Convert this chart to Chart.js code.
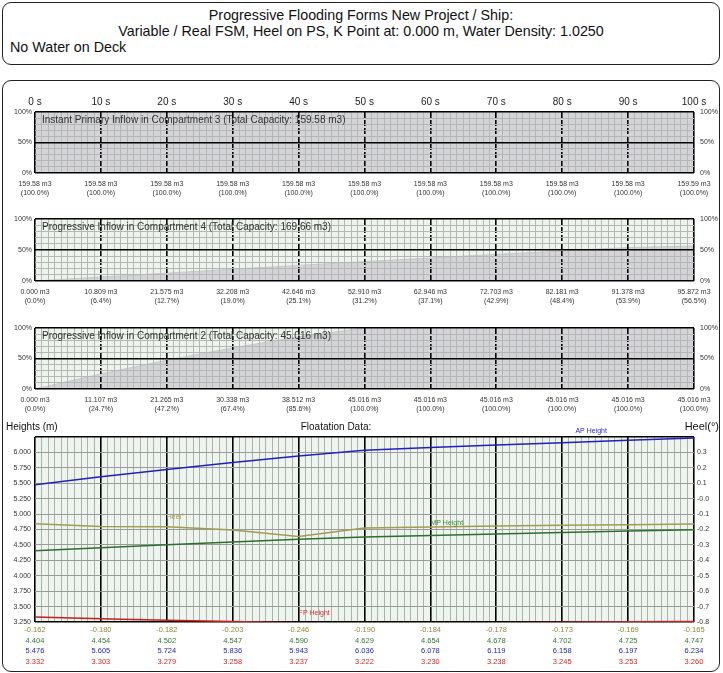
<!DOCTYPE html>
<html>
<head>
<meta charset="utf-8">
<script src="https://cdn.jsdelivr.net/npm/chart.js@4.4.1/dist/chart.umd.min.js"></script>
<style>
body { margin: 0; background: #fff; font-family: "Liberation Sans", Arial, sans-serif; }
#page { position: relative; width: 723px; height: 673px; overflow: hidden; }
.box { position: absolute; border: 1px solid #222; border-radius: 9px; box-sizing: border-box; }
#header { left: 2px; top: 2px; width: 718px; height: 63px; }
#header div { position: absolute; font-size: 14.3px; color: #111; white-space: nowrap; }
#main { left: 2px; top: 80px; width: 718px; height: 592px; }
canvas { position: absolute; left: 0; }
</style>
</head>
<body>
<div id="page">
  <div class="box" id="header">
    <div style="left:0;width:100%;text-align:center;top:4px">Progressive Flooding Forms New Project / Ship:</div>
    <div style="left:0;width:100%;text-align:center;top:20px">Variable / Real FSM, Heel on PS, K Point at: 0.000 m, Water Density: 1.0250</div>
    <div style="left:7px;top:36px">No Water on Deck</div>
  </div>
  <div class="box" id="main"></div>
  <canvas id="panel1" width="723" height="105" style="top:95px"></canvas>
  <canvas id="panel2" width="723" height="105" style="top:203px"></canvas>
  <canvas id="panel3" width="723" height="105" style="top:312px"></canvas>
  <canvas id="floatation" width="723" height="256" style="top:417px"></canvas>
</div>
<script>
'use strict';

//time steps and tick labels
var times = [0, 10, 20, 30, 40, 50, 60, 70, 80, 90, 100];
var timeTicks = ['0 s', '10 s', '20 s', '30 s', '40 s', '50 s', '60 s', '70 s', '80 s', '90 s', '100 s'];
var pctTicks = ['0%', '', '', '', '', '50%', '', '', '', '', '100%'];
var heightTicks = ['3.250', '3.500', '3.750', '4.000', '4.250', '4.500', '4.750', '5.000', '5.250', '5.500', '5.750', '6.000'];
var heelTicks = ['-0.8', '-0.7', '-0.6', '-0.5', '-0.4', '-0.3', '-0.2', '-0.1', '-0.0', '0.1', '0.2', '0.3'];

//compartment 3 (instant primary inflow)
var comp3Vol = [159.58, 159.58, 159.58, 159.58, 159.58, 159.58, 159.58, 159.58, 159.58, 159.58, 159.59];
var comp3Pct = [100.0, 100.0, 100.0, 100.0, 100.0, 100.0, 100.0, 100.0, 100.0, 100.0, 100.0];

//compartment 4 (progressive inflow)
var comp4Vol = [0.000, 10.809, 21.575, 32.208, 42.646, 52.910, 62.946, 72.703, 82.181, 91.378, 95.872];
var comp4Pct = [0.0, 6.4, 12.7, 19.0, 25.1, 31.2, 37.1, 42.9, 48.4, 53.9, 56.5];

//compartment 2 (progressive inflow)
var comp2Vol = [0.000, 11.107, 21.265, 30.338, 38.512, 45.016, 45.016, 45.016, 45.016, 45.016, 45.016];
var comp2Pct = [0.0, 24.7, 47.2, 67.4, 85.6, 100.0, 100.0, 100.0, 100.0, 100.0, 100.0];

//floatation data
var heel = [-0.162, -0.180, -0.182, -0.203, -0.246, -0.190, -0.184, -0.178, -0.173, -0.169, -0.165];
var mpHeight = [4.404, 4.454, 4.502, 4.547, 4.590, 4.629, 4.654, 4.678, 4.702, 4.725, 4.747];
var apHeight = [5.476, 5.605, 5.724, 5.836, 5.943, 6.036, 6.078, 6.119, 6.158, 6.197, 6.234];
var fpHeight = [3.332, 3.303, 3.279, 3.258, 3.237, 3.222, 3.230, 3.238, 3.245, 3.253, 3.260];

var FONT = '"Liberation Sans", Arial, sans-serif';
var MINOR = '#b4b8b4';

function points(values) {
  return times.map(function(t, i) { return { x: t, y: values[i] }; });
}

//paints the plot background
function bgPlugin(color) {
  return {
    id: 'bg',
    beforeDraw: function(chart) {
      var a = chart.chartArea;
      var ctx = chart.ctx;
      ctx.save();
      ctx.fillStyle = color;
      ctx.fillRect(a.left, a.top, a.right - a.left, a.bottom - a.top);
      ctx.restore();
    }
  };
}

//title inside the panel and volume labels under it
function panelText(title, vols, pcts, digits) {
  return {
    id: 'panelText',
    afterDraw: function(chart) {
      var a = chart.chartArea;
      var ctx = chart.ctx;
      var xs = chart.scales.x;
      ctx.save();
      ctx.font = '10px ' + FONT;
      ctx.fillStyle = '#333';
      ctx.textBaseline = 'middle';
      ctx.fillText(title, a.left + 7, a.top + 8);
      ctx.font = '7px ' + FONT;
      ctx.textAlign = 'center';
      for (var i = 0; i < times.length; i++) {
        var x = xs.getPixelForValue(times[i]);
        ctx.fillText(vols[i].toFixed(digits) + ' m3', x, a.bottom + 11);
        ctx.fillText('(' + pcts[i].toFixed(1) + '%)', x, a.bottom + 20);
      }
      ctx.restore();
    }
  };
}

function isMajorTime(ctx) {
  return ctx.tick && ctx.tick.value % 10 === 0;
}

function drawPanel(id, pcts, showTime, topH, bottomPad, bg, title, vols, digits) {
  var ctx = document.getElementById(id).getContext('2d');
  return new Chart(ctx, {
    type: 'line',
    data: {
      datasets: [{
        data: points(pcts),
        fill: 'origin',
        backgroundColor: '#d4d4d8',
        borderColor: '#c8c8cc',
        borderWidth: 1,
        pointRadius: 0,
        tension: 0
      }]
    },
    options: {
      responsive: false,
      animation: false,
      layout: { padding: { top: 0, bottom: bottomPad, left: 0, right: 0 }, autoPadding: false },
      plugins: { legend: { display: false }, tooltip: { enabled: false } },
      scales: {
        x: {
          type: 'linear', min: 0, max: 100, position: 'top',
          afterFit: function(s) { s.height = topH; },
          ticks: {
            display: showTime, stepSize: 1, autoSkip: false, maxRotation: 0, padding: 4,
            font: { size: 10, family: FONT }, color: '#222',
            callback: function(v) { return v % 10 === 0 ? timeTicks[v / 10] : ''; }
          },
          grid: {
            z: 1, drawTicks: false,
            color: function(c) { return isMajorTime(c) ? '#000' : MINOR; },
            lineWidth: function(c) { return isMajorTime(c) ? 1.6 : 1; }
          },
          border: {
            display: false,
            dash: function(c) {
              if (!c.tick) return [];
              var v = c.tick.value;
              return (v % 10 === 0 && v > 0 && v < 100) ? [6, 2] : [];
            }
          }
        },
        y: {
          min: 0, max: 100, position: 'left',
          afterFit: function(s) { s.width = 35; },
          ticks: {
            stepSize: 10, autoSkip: false, padding: 3,
            font: { size: 7, family: FONT }, color: '#333',
            callback: function(v, i) { return pctTicks[i]; }
          },
          grid: {
            z: 1, drawTicks: false,
            color: function(c) { return c.tick && c.tick.value % 50 === 0 ? '#000' : MINOR; },
            lineWidth: function(c) { return c.tick && c.tick.value % 50 === 0 ? 1.4 : 1; }
          },
          border: { display: false }
        },
        y2: {
          min: 0, max: 100, position: 'right',
          afterFit: function(s) { s.width = 29; },
          ticks: {
            stepSize: 10, autoSkip: false, padding: 6,
            font: { size: 7, family: FONT }, color: '#333',
            callback: function(v, i) { return pctTicks[i]; }
          },
          grid: { display: false, drawTicks: false },
          border: { display: false }
        }
      }
    },
    plugins: [bgPlugin(bg), panelText(title, vols, pcts, digits)]
  });
}

drawPanel('panel1', comp3Pct, true, 17, 27, '#eef3ee',
  'Instant Primary Inflow in Compartment 3 (Total Capacity: 159.58 m3)', comp3Vol, 2);
drawPanel('panel2', comp4Pct, false, 16, 27, '#eef3ee',
  'Progressive Inflow in Compartment 4 (Total Capacity: 169.66 m3)', comp4Vol, 3);
drawPanel('panel3', comp2Pct, false, 16, 28, '#eef3ee',
  'Progressive Inflow in Compartment 2 (Total Capacity: 45.016 m3)', comp2Vol, 3);

//floatation chart texts
var floatText = {
  id: 'floatText',
  afterDatasetsDraw: function(chart) {
    var xs = chart.scales.x;
    var ys = chart.scales.y;
    var ctx = chart.ctx;
    var a = chart.chartArea;
    ctx.save();
    ctx.font = '7px ' + FONT;
    ctx.textBaseline = 'middle';
    ctx.fillStyle = '#2a2ac8';
    ctx.fillText('AP Height', xs.getPixelForValue(82), a.top - 6);
    ctx.fillStyle = '#3a8a3a';
    ctx.fillText('MP Height', xs.getPixelForValue(60), ys.getPixelForValue(4.85));
    ctx.fillStyle = '#a8a040';
    ctx.fillText('Heel\u00b0', xs.getPixelForValue(20), ys.getPixelForValue(4.95));
    ctx.fillStyle = '#d03030';
    ctx.fillText('FP Height', xs.getPixelForValue(40), ys.getPixelForValue(3.40));
    ctx.restore();
  },
  afterDraw: function(chart) {
    var xs = chart.scales.x;
    var ctx = chart.ctx;
    var a = chart.chartArea;
    ctx.save();
    ctx.fillStyle = '#111';
    ctx.textBaseline = 'middle';
    ctx.font = '10px ' + FONT;
    ctx.fillText('Heights (m)', 6, a.top - 10);
    ctx.textAlign = 'center';
    ctx.fillText('Floatation Data:', 336, a.top - 10);
    ctx.textAlign = 'right';
    ctx.font = '11px ' + FONT;
    ctx.fillText('Heel(\u00b0)', 719, a.top - 10);
    ctx.font = '7.5px ' + FONT;
    ctx.textAlign = 'center';
    var rows = [[heel, '#8c8a3a'], [mpHeight, '#2f7a2f'], [apHeight, '#2424b4'], [fpHeight, '#d02828']];
    for (var r = 0; r < rows.length; r++) {
      ctx.fillStyle = rows[r][1];
      for (var i = 0; i < times.length; i++) {
        ctx.fillText(rows[r][0][i].toFixed(3), xs.getPixelForValue(times[i]), a.bottom + 8 + r * 10.5);
      }
    }
    ctx.restore();
  }
};

var floatCtx = document.getElementById('floatation').getContext('2d');
new Chart(floatCtx, {
  type: 'line',
  data: {
    datasets: [
      { label: 'AP Height', data: points(apHeight), yAxisID: 'y', borderColor: '#2020c0', borderWidth: 1.5, pointRadius: 0, tension: 0 },
      { label: 'Heel', data: points(heel), yAxisID: 'yH', borderColor: '#a29c50', borderWidth: 1.5, pointRadius: 0, tension: 0 },
      { label: 'MP Height', data: points(mpHeight), yAxisID: 'y', borderColor: '#2e6e2e', borderWidth: 1.5, pointRadius: 0, tension: 0 },
      { label: 'FP Height', data: points(fpHeight), yAxisID: 'y', borderColor: '#c82020', borderWidth: 1.5, pointRadius: 0, tension: 0 }
    ]
  },
  options: {
    responsive: false,
    animation: false,
    layout: { padding: { top: 20, bottom: 51, left: 0, right: 0 }, autoPadding: false },
    plugins: { legend: { display: false }, tooltip: { enabled: false } },
    scales: {
      x: {
        type: 'linear', min: 0, max: 100, position: 'bottom',
        afterFit: function(s) { s.height = 0; },
        ticks: { display: false, stepSize: 1, autoSkip: false, maxRotation: 0 },
        grid: {
          drawTicks: false,
          color: function(c) { return isMajorTime(c) ? '#000' : '#aeb2ae'; },
          lineWidth: function(c) { return isMajorTime(c) ? 1.6 : 1; }
        },
        border: { display: false }
      },
      y: {
        min: 3.25, max: 6.25, position: 'left',
        afterFit: function(s) { s.width = 35; },
        ticks: {
          stepSize: 0.25, autoSkip: false, padding: 4,
          font: { size: 7, family: FONT }, color: '#333',
          callback: function(v, i) { return heightTicks[i] || ''; }
        },
        grid: {
          drawTicks: false,
          color: function(c) { return c.index === 0 || (c.tick && c.tick.value >= 6.25) ? '#000' : '#9a9a9a'; },
          lineWidth: function(c) { return c.index === 0 || (c.tick && c.tick.value >= 6.25) ? 1.4 : 1; }
        },
        border: { display: false }
      },
      yH: {
        min: -0.8, max: 0.4, position: 'right',
        afterFit: function(s) { s.width = 29; },
        ticks: {
          stepSize: 0.1, autoSkip: false, padding: 3,
          font: { size: 7, family: FONT }, color: '#333',
          callback: function(v, i) { return heelTicks[i] || ''; }
        },
        grid: { display: false, drawTicks: false },
        border: { display: false }
      }
    }
  },
  plugins: [bgPlugin('#eef4ee'), floatText]
});
</script>
</body>
</html>
